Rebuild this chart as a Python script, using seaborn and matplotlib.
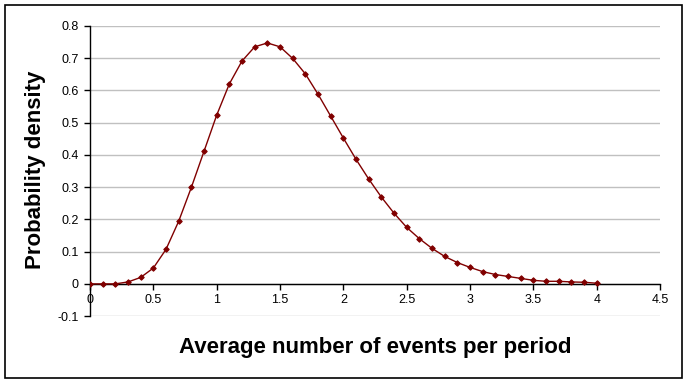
import numpy as np
import pandas as pd
import matplotlib
matplotlib.use("Agg")
import matplotlib.pyplot as plt
import seaborn as sns
from matplotlib.patches import Rectangle

# values
x_vals = [0.0, 0.1, 0.2, 0.3, 0.4, 0.5, 0.6, 0.7, 0.8, 0.9,
          1.0, 1.1, 1.2, 1.3, 1.4, 1.5, 1.6, 1.7, 1.8, 1.9,
          2.0, 2.1, 2.2, 2.3, 2.4, 2.5, 2.6, 2.7, 2.8, 2.9,
          3.0, 3.1, 3.2, 3.3, 3.4, 3.5, 3.6, 3.7, 3.8, 3.9, 4.0]
density = [0.000, 0.000, 0.000, 0.006, 0.020, 0.049, 0.107, 0.194, 0.299, 0.411,
           0.523, 0.620, 0.691, 0.735, 0.747, 0.735, 0.699, 0.651, 0.588, 0.520,
           0.452, 0.386, 0.325, 0.269, 0.219, 0.175, 0.140, 0.110, 0.085, 0.066,
           0.051, 0.038, 0.029, 0.023, 0.017, 0.011, 0.008, 0.008, 0.006, 0.005,
           0.002]
x_ticks = [0, 0.5, 1, 1.5, 2, 2.5, 3, 3.5, 4, 4.5]
y_ticks = [-0.1, 0, 0.1, 0.2, 0.3, 0.4, 0.5, 0.6, 0.7, 0.8]

df = pd.DataFrame({"x": x_vals, "y": density})

sns.set_style("white")
plt.rcParams['font.family'] = ['Liberation Sans', 'DejaVu Sans']
plt.rcParams['text.color'] = 'black'
plt.rcParams['xtick.color'] = 'black'
plt.rcParams['ytick.color'] = 'black'

fig = plt.figure(figsize=(6.92, 3.86), dpi=100)
ax = fig.add_axes([0.130, 0.181, 0.824, 0.752])

# horizontal gridlines
for yv in y_ticks:
    ax.axhline(yv, color='#c0c0c0', lw=1, zorder=0)

sns.lineplot(data=df, x='x', y='y', ax=ax, color='#800000', lw=1,
             marker='D', markersize=2.8, markeredgecolor='#800000', zorder=3)

ax.set_xlim(0, 4.5)
ax.set_ylim(-0.1, 0.8)
ax.set_xticks(x_ticks)
ax.set_yticks(y_ticks)
ax.set_xticklabels(['%g' % t for t in x_ticks])
ax.set_yticklabels(['%g' % t for t in y_ticks])

for s in ['top', 'right']:
    ax.spines[s].set_visible(False)
ax.spines['bottom'].set_position(('data', 0))
ax.spines['bottom'].set_color('black')
ax.spines['left'].set_color('black')
ax.spines['bottom'].set_linewidth(1)
ax.spines['left'].set_linewidth(1)

ax.tick_params(axis='y', direction='out', length=4, width=1, labelsize=9, pad=4, left=True)
ax.tick_params(axis='x', direction='out', length=4, width=1, labelsize=9, pad=3, bottom=True)

ax.set_xlabel('')
ax.set_ylabel('')
fig.text(0.542, 0.101, 'Average number of events per period', ha='center', va='center',
         fontsize=16, fontweight='bold', color='black')
fig.text(0.051, 0.56, 'Probability density', ha='center', va='center',
         fontsize=16, fontweight='bold', rotation=90, color='black')

# outer chart border
fig.patches.append(Rectangle((5 / 692, 1 - 378 / 386), 677 / 692, 373 / 386,
                             transform=fig.transFigure, fill=False,
                             edgecolor='black', lw=1.2))

fig.savefig('out.png', dpi=100)
